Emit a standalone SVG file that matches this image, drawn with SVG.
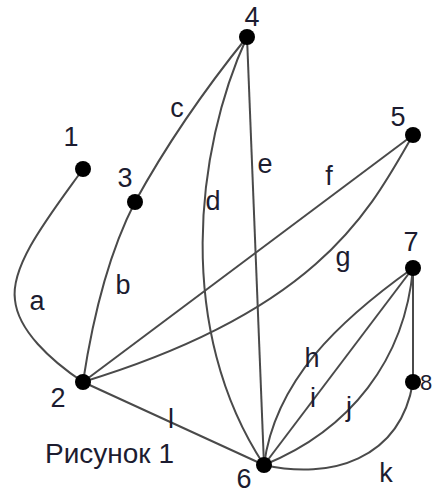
<svg xmlns="http://www.w3.org/2000/svg" width="434" height="495" viewBox="0 0 434 495">
<style>
.e{fill:none;stroke:#4a4a4a;stroke-width:2}
.n{fill:#000}
text{font-family:"Liberation Sans",Arial,sans-serif;font-size:27px;fill:#1c1c30}
.m{text-anchor:middle}
</style>
<rect width="434" height="495" fill="#fff"/>
<g id="edges">
<path class="e" d="M83,169 C50,215 10,265 15,300 C18,330 50,360 83,382"/>
<path class="e" d="M135,202 Q100,270 83,382"/>
<path class="e" d="M247,37 Q180,120 135,202"/>
<path class="e" d="M247,37 C195,150 175,330 264,465"/>
<path class="e" d="M247,37 L264,465"/>
<path class="e" d="M413,135 L83,382"/>
<path class="e" d="M413,135 C370,210 320,310 83,382"/>
<path class="e" d="M413,268 C340,320 275,380 264,465"/>
<path class="e" d="M413,268 L264,465"/>
<path class="e" d="M413,268 C405,360 350,430 264,465"/>
<path class="e" d="M413,268 L413,382"/>
<path class="e" d="M413,382 C400,460 330,480 264,465"/>
<path class="e" d="M83,382 L264,465"/>
</g>
<g id="n1"><circle class="n" cx="83" cy="169" r="8"/><text class="m" x="71" y="146">1</text></g>
<g id="n2"><circle class="n" cx="83" cy="382" r="8"/><text class="m" x="58" y="407">2</text></g>
<g id="n3"><circle class="n" cx="135" cy="202" r="8"/><text class="m" x="125" y="187">3</text></g>
<g id="n4"><circle class="n" cx="247" cy="37" r="8"/><text class="m" x="252" y="26">4</text></g>
<g id="n5"><circle class="n" cx="413" cy="135" r="8"/><text class="m" x="398" y="126">5</text></g>
<g id="n6"><circle class="n" cx="264" cy="465" r="8"/><text class="m" x="244" y="488">6</text></g>
<g id="n7"><circle class="n" cx="413" cy="268" r="8"/><text class="m" x="411" y="251">7</text></g>
<g id="n8"><circle class="n" cx="413" cy="382" r="8"/><text x="420" y="390" style="font-size:22px">8</text></g>
<g id="labels">
<text class="m" x="37" y="310">a</text>
<text class="m" x="123" y="294">b</text>
<text class="m" x="177" y="117">c</text>
<text class="m" x="213" y="210">d</text>
<text class="m" x="265" y="173">e</text>
<text class="m" x="329" y="185">f</text>
<text class="m" x="343" y="266">g</text>
<text class="m" x="312" y="367">h</text>
<text class="m" x="313" y="407">i</text>
<text class="m" x="349" y="416">j</text>
<text class="m" x="386" y="482">k</text>
<text class="m" x="171" y="428">l</text>
<text x="45" y="463" style="font-size:28px">Рисунок 1</text>
</g>
</svg>
